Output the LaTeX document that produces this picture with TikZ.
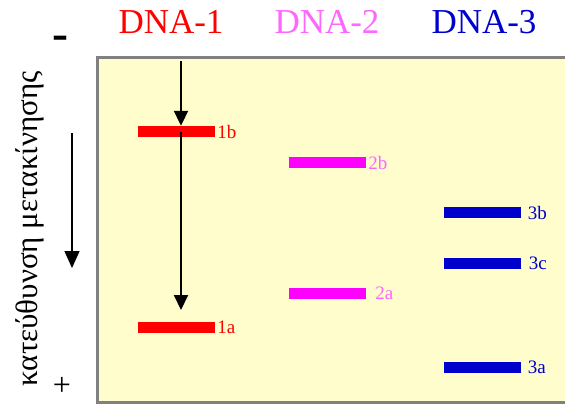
\documentclass[tikz,border=0pt]{standalone}
\usepackage{fontspec}
\setmainfont{Liberation Serif}
\usetikzlibrary{positioning,arrows.meta}

\definecolor{gelFill}{RGB}{255,253,204}
\definecolor{gelBorder}{RGB}{128,128,128}
\definecolor{dnaOne}{RGB}{255,0,0}
\definecolor{dnaTwo}{RGB}{255,0,255}
\definecolor{dnaTwoText}{RGB}{255,102,255}
\definecolor{dnaThree}{RGB}{0,0,204}

\begin{document}
\begin{tikzpicture}[x=1pt,y=-1pt,
        band/.style={minimum width=77pt,minimum height=11pt,inner sep=0pt},
        bandLabel/.style={font=\fontsize{19}{19}\selectfont,inner sep=0pt},
        heading/.style={font=\fontsize{35}{40}\selectfont},
        migration/.style={line width=2pt,-{Triangle[length=15pt,width=14pt]}}]
        \useasboundingbox (0,0) rectangle (565,405);
        % the gel
        \fill[gelFill] (97,57) rectangle (570,402);
        \draw[gelBorder,line width=3pt] (570,57) -- (97,57) -- (97,402) -- (570,402);
        % headings
        \node[heading,text=dnaOne] (headOne) at (171,22) {DNA-1};
        \node[heading,text=dnaTwoText] (headTwo) at (327,22) {DNA-2};
        \node[heading,text=dnaThree] (headThree) at (484,22) {DNA-3};
        % poles and direction
        \node[font=\fontsize{48}{48}\selectfont\bfseries] (minus) at (60,43) {-};
        \node[font=\fontsize{32}{32}\selectfont,inner sep=0pt] (plus) at (62,386) {+};
        \node[rotate=90,font=\fontsize{31}{31}\selectfont] (direction) at (30,229) {κατεύθυνση μετακίνησης};
        \coordinate (dirStart) at (72,133);
        \coordinate (dirStop) at (72,268);
        \draw[line width=1.5pt,-{Triangle[length=17pt,width=15pt]}] (dirStart) -- (dirStop);
        % bands
        \node[band,fill=dnaOne] (bandOneB) at (176.5,131.5) {};
        \node[band,fill=dnaOne] (bandOneA) at (176.5,327) {};
        \node[band,fill=dnaTwo] (bandTwoB) at (327.5,162.5) {};
        \node[band,fill=dnaTwo] (bandTwoA) at (327.5,293.5) {};
        \node[band,fill=dnaThree] (bandThreeB) at (482,212.5) {};
        \node[band,fill=dnaThree] (bandThreeC) at (482,263.5) {};
        \node[band,fill=dnaThree] (bandThreeA) at (482,367.5) {};
        \node[bandLabel,text=dnaOne,right=2pt of bandOneB] (labelOneB) {1b};
        \node[bandLabel,text=dnaOne,right=2pt of bandOneA] (labelOneA) {1a};
        \node[bandLabel,text=dnaTwoText,right=2pt of bandTwoB] (labelTwoB) {2b};
        \node[bandLabel,text=dnaTwoText,right=9pt of bandTwoA] (labelTwoA) {2a};
        \node[bandLabel,text=dnaThree,right=7pt of bandThreeB] (labelThreeB) {3b};
        \node[bandLabel,text=dnaThree,right=8pt of bandThreeC] (labelThreeC) {3c};
        \node[bandLabel,text=dnaThree,right=7pt of bandThreeA] (labelThreeA) {3a};
        % migration of DNA-1
        \coordinate (wellOne) at (181,61);
        \coordinate (stopOne) at (181,310);
        \draw[migration] (wellOne) -- (wellOne |- bandOneB.north);
        \draw[migration] (wellOne |- bandOneB) -- (stopOne);
\end{tikzpicture}
\end{document}
